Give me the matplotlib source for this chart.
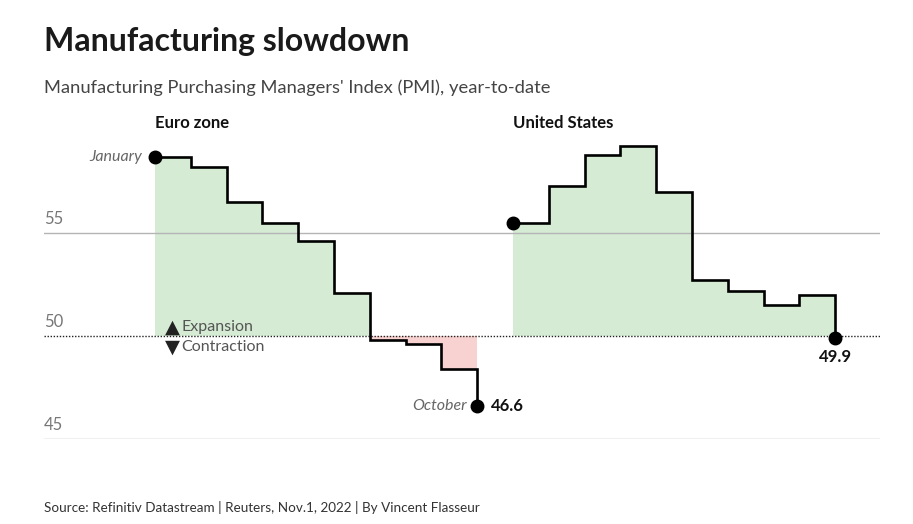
import matplotlib
matplotlib.use("Agg")
import matplotlib.pyplot as plt
import numpy as np

plt.rcParams['font.family'] = ['Lato', 'DejaVu Sans']

# Manufacturing PMI, January to October 2022
months = ['January', 'February', 'March', 'April', 'May', 'June',
          'July', 'August', 'September', 'October']
euro_pmi = [58.7, 58.2, 56.5, 55.5, 54.6, 52.1, 49.8, 49.6, 48.4, 46.6]
us_pmi = [55.5, 57.3, 58.8, 59.2, 57.0, 52.7, 52.2, 51.5, 52.0, 49.9]
regions = ['Euro zone', 'United States']
yticks = [45, 50, 55]

GREEN = '#d5ebd4'
RED = '#f8d2d0'

fig = plt.figure(figsize=(9.13, 5.24), dpi=100)
ax = fig.add_axes([0.0482, 0.1622, 0.9157, 0.6094])
ax.set_xlim(-3.1, 20.25)
ax.set_ylim(45, 60.5)
ax.axis('off')

# reference lines
for t in yticks:
    if t == 50:
        ax.axhline(t, color='#222222', lw=1.0, ls=(0, (1, 1.2)), zorder=1)
    else:
        ax.axhline(t, color='#b5b5b5', lw=1.0, zorder=1)
    ax.text(-3.1, t + 0.3, str(t), ha='left', va='bottom', fontsize=12,
            color='#777777')


def draw_series(offset, vals, label):
    x = np.arange(len(vals)) + offset
    v = np.array(vals)
    above = v >= 50
    # a step segment [i, i+1] takes the value of point i
    green_mask = above.copy()
    green_mask[1:] |= above[:-1]
    red_mask = ~above
    red_mask[-1] = red_mask[-1] and (v[-2] < 50)
    ax.fill_between(x, v, 50, where=green_mask, step='post', color=GREEN,
                    lw=0, zorder=0)
    if red_mask.any():
        ax.fill_between(x, v, 50, where=red_mask, step='post', color=RED,
                        lw=0, zorder=0)
    ax.plot(x, v, drawstyle='steps-post', color='black', lw=1.9, zorder=3,
            solid_joinstyle='miter')
    ax.plot([x[0], x[-1]], [v[0], v[-1]], 'o', color='black', ms=9,
            zorder=4)
    ax.text(x[0], 60.35, label, ha='left', va='center', fontsize=12,
            fontweight='bold', color='#111111')
    return x, v


ex, ev = draw_series(0, euro_pmi, regions[0])
ux, uv = draw_series(10, us_pmi, regions[1])

# annotations
ax.text(ex[0] - 0.35, ev[0], months[0], ha='right', va='center',
        fontsize=11.5, style='italic', color='#666666')
ax.text(ex[-1] - 0.3, ev[-1], months[-1], ha='right', va='center',
        fontsize=11.5, style='italic', color='#666666')
ax.text(ex[-1] + 0.38, ev[-1], f'{ev[-1]:.1f}', ha='left', va='center',
        fontsize=12, fontweight='bold', color='#111111')
ax.text(ux[-1], uv[-1] - 0.9, f'{uv[-1]:.1f}', ha='center', va='center',
        fontsize=12, fontweight='bold', color='#111111')

ax.text(0.28, 50.45, '▲', ha='left', va='center', fontsize=14,
        color='#222222', family='DejaVu Sans')
ax.text(0.74, 50.45, 'Expansion', ha='left', va='center', fontsize=11.5,
        color='#555555')
ax.text(0.28, 49.45, '▼', ha='left', va='center', fontsize=14,
        color='#222222', family='DejaVu Sans')
ax.text(0.74, 49.45, 'Contraction', ha='left', va='center', fontsize=11.5,
        color='#555555')

# titles and source
fig.text(44 / 913, 1 - 42 / 524, 'Manufacturing slowdown', ha='left',
         va='center', fontsize=23, fontweight='bold', color='#1a1a1a')
fig.text(44 / 913, 1 - 88 / 524,
         "Manufacturing Purchasing Managers' Index (PMI), year-to-date",
         ha='left', va='center', fontsize=13.2, color='#444444')
fig.text(44 / 913, 1 - 507 / 524,
         'Source: Refinitiv Datastream | Reuters, Nov.1, 2022 | By Vincent Flasseur',
         ha='left', va='center', fontsize=9.7, color='#333333')

fig.savefig('out.png', dpi=100, facecolor='white')
